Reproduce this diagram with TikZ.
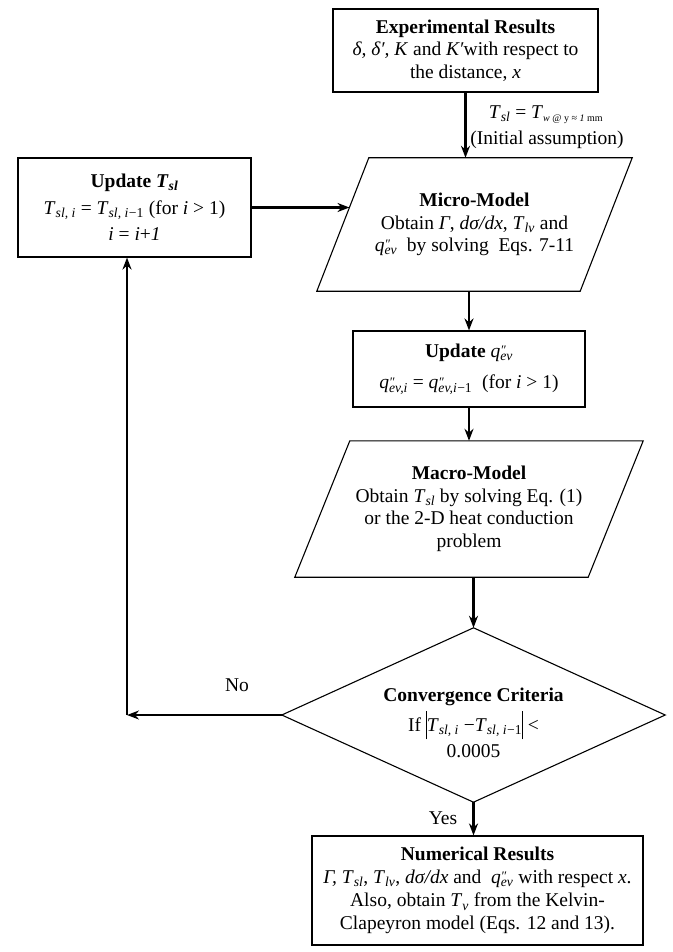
\documentclass[tikz,border=0pt]{standalone}
\usepackage{fontspec}
\setmainfont{Liberation Serif}
\usetikzlibrary{arrows.meta,calc}
\newcommand{\sbs}[1]{\textsubscript{\textit{#1}}}
\newcommand{\qq}[1]{\textit{q}\makebox[0pt][l]{\raisebox{0.3ex}{\fontsize{13}{13}\selectfont\textit{″}}}\sbs{#1}}
\newcommand{\absbar}{\raisebox{-0.42em}{\rule{0.8pt}{1.45em}}}
\begin{document}
\begin{tikzpicture}[x=1pt,y=-1pt,
  txt/.style={font=\fontsize{19.5}{22.5}\selectfont, align=center, inner sep=0pt},
  box/.style={txt, draw, line width=1.1pt},
  shp/.style={txt},
  outl/.style={line width=1.1pt, line join=miter},
  arr/.style={-{Stealth[length=12pt,width=9pt]}, line width=2.2pt},
  lbl/.style={txt}]
\useasboundingbox (0,0) rectangle (672,952);

% Experimental results
\node[box, minimum width=265pt, minimum height=83pt] (exp) at (465.5,50.5)
  {\textbf{Experimental Results}\\
   \textit{δ, δ′, K} and \textit{K′}with respect to\\
   the distance, \textit{x}};

% Update T_sl
\node[box, minimum width=233pt, minimum height=99pt] (tsl) at (134.5,207.5)
  {\textbf{Update \textit{T}\sbs{sl}}\\[4pt]
   \textit{T}\sbs{sl, i} = \textit{T}\sbs{sl, i}\textsubscript{−1} (for \textit{i} > 1)\\[4pt]
   \textit{i} = \textit{i}+\textit{1}};

% Micro-model (parallelogram)
\node[shp, minimum width=315pt, minimum height=133pt] (micro) at (474.5,224.5)
  {\textbf{Micro-Model}\\
   Obtain \textit{Γ}, \textit{dσ/dx}, \textit{T}\sbs{lv} and\\
   \qq{ev}\ \ by solving\ \ Eqs. 7-11};
\draw[outl] ($(micro.north west)+(52,0)$) -- (micro.north east)
  -- ($(micro.south east)+(-52,0)$) -- (micro.south west) -- cycle;

% Update q''
\node[box, minimum width=232pt, minimum height=76pt] (updq) at (469,369)
  {\textbf{Update}\ \qq{ev}\\[9pt]
   \qq{ev,i} = \qq{ev,i}\textsubscript{−1}\ \ (for \textit{i} > 1)};

% Macro-model (parallelogram)
\node[shp, minimum width=348pt, minimum height=136pt] (macro) at (469,509)
  {\textbf{Macro-Model}\\
   Obtain \textit{T}\sbs{sl} by solving Eq. (1)\\
   or the 2-D heat conduction\\
   problem};
\draw[outl] ($(macro.north west)+(55,0)$) -- (macro.north east)
  -- ($(macro.south east)+(-55,0)$) -- (macro.south west) -- cycle;

% Convergence diamond
\node[shp, minimum width=383pt, minimum height=174pt] (diam) at (473.5,715) {};
\draw[outl] (diam.north) -- (diam.east) -- (diam.south) -- (diam.west) -- cycle;
\node[txt] (diamtxt) at (473.5,723)
  {\textbf{Convergence Criteria}\\[4pt]
   If \absbar\textit{T}\sbs{sl, i} −\textit{T}\sbs{sl, i}\textsubscript{−1}\absbar\ <\\[4pt]
   0.0005};

% Numerical results
\node[box, minimum width=331pt, minimum height=109pt] (num) at (477.5,890.5)
  {\textbf{Numerical Results}\\
   \textit{Γ, T}\sbs{sl}, \textit{T}\sbs{lv}, \textit{dσ/dx} and\ \ \qq{ev} with respect \textit{x}.\\[1pt]
   Also, obtain \textit{T}\sbs{v} from the Kelvin-\\
   Clapeyron model (Eqs. 12 and 13).};

% connectors
\coordinate (microin) at (349.5,207.5);
\coordinate (loop) at (127,715);
\draw[arr] (exp.south) -- (exp.south |- micro.north);
\draw[arr] (tsl.east) -- (microin);
\draw[arr] (updq.north |- micro.south) -- (updq.north);
\draw[arr] (updq.south) -- (updq.south |- macro.north);
\draw[arr] (diam.north |- macro.south) -- (diam.north);
\draw[arr] (diam.south) -- (diam.south |- num.north);
\draw[arr] (diam.west) -- (loop);
\draw[arr] (loop) -- (loop |- tsl.south);

% labels
\node[lbl] (tslab) at (546,115)
  {\textit{T}\sbs{sl} = \textit{T}\textsubscript{\fontsize{10}{10}\selectfont\textit{w} @ y ≈ \textit{1} mm}};
\node[lbl] (init) at (547,140) {(Initial assumption)};
\node[lbl] (nolab) at (237,685) {No};
\node[lbl] (yeslab) at (443,818) {Yes};
\end{tikzpicture}
\end{document}
